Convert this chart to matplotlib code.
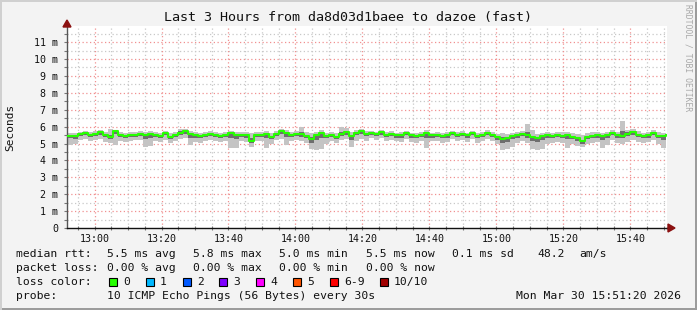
import numpy as np
import matplotlib
matplotlib.use("Agg")
import matplotlib.pyplot as plt
from matplotlib.patches import Rectangle, Polygon
from matplotlib.lines import Line2D

# ---------------- data ----------------
# time axis: minutes after 12:00, one sample every 1.5 minutes
t_start = 52.0
t_step = 1.5

median_ms = [
    5.44, 5.44, 5.58, 5.64, 5.52, 5.58, 5.68, 5.48, 5.38, 5.74,
    5.52, 5.44, 5.48, 5.52, 5.58, 5.48, 5.58, 5.48, 5.44, 5.64,
    5.38, 5.52, 5.64, 5.72, 5.58, 5.48, 5.44, 5.48, 5.58, 5.52,
    5.44, 5.52, 5.62, 5.48, 5.52, 5.48, 5.13, 5.48, 5.52, 5.58,
    5.38, 5.58, 5.72, 5.64, 5.52, 5.58, 5.54, 5.44, 5.29, 5.52,
    5.64, 5.44, 5.52, 5.38, 5.58, 5.68, 5.44, 5.64, 5.72, 5.56,
    5.64, 5.56, 5.68, 5.52, 5.58, 5.48, 5.48, 5.64, 5.48, 5.44,
    5.52, 5.64, 5.48, 5.52, 5.44, 5.48, 5.64, 5.52, 5.58, 5.48,
    5.64, 5.44, 5.52, 5.64, 5.52, 5.38, 5.29, 5.33, 5.44, 5.48,
    5.58, 5.48, 5.38, 5.33, 5.44, 5.48, 5.44, 5.52, 5.44, 5.48,
    5.38, 5.33, 5.13, 5.38, 5.44, 5.48, 5.44, 5.52, 5.64, 5.48,
    5.44, 5.58, 5.68, 5.52, 5.44, 5.48, 5.64, 5.44, 5.44, 5.48,
]

smoke_hi_ms = [
    5.62, 5.65, 5.70, 5.74, 5.68, 5.72, 5.78, 5.70, 5.88, 5.82,
    5.70, 5.62, 5.66, 5.70, 5.72, 5.68, 5.72, 5.66, 5.64, 5.76,
    5.62, 5.70, 5.88, 5.84, 5.74, 5.66, 5.62, 5.68, 5.72, 5.70,
    5.64, 5.70, 5.76, 5.66, 5.70, 5.68, 5.62, 5.66, 5.70, 5.74,
    5.62, 5.72, 5.84, 5.78, 5.70, 5.74, 5.98, 5.70, 5.62, 5.70,
    5.78, 5.64, 5.70, 5.62, 5.98, 5.92, 5.66, 5.80, 5.84, 5.76,
    5.76, 5.70, 5.80, 5.68, 5.72, 5.64, 5.66, 5.76, 5.64, 5.62,
    5.68, 5.78, 5.64, 5.68, 5.62, 5.66, 5.76, 5.68, 5.72, 5.64,
    5.76, 5.62, 5.68, 5.78, 5.70, 5.58, 5.60, 5.58, 5.64, 5.66,
    5.74, 6.17, 5.80, 5.56, 5.64, 5.66, 5.62, 5.70, 5.66, 5.68,
    5.60, 5.58, 5.50, 5.62, 5.66, 5.70, 5.64, 5.70, 5.80, 5.66,
    6.31, 5.82, 5.86, 5.72, 5.64, 5.70, 5.80, 5.66, 5.64, 5.62,
]

smoke_lo_ms = [
    4.90, 4.95, 5.20, 5.25, 5.15, 5.22, 5.25, 5.10, 5.05, 4.90,
    5.15, 5.10, 5.15, 5.18, 5.20, 4.82, 4.85, 5.12, 5.08, 5.22,
    5.05, 5.15, 5.25, 5.30, 4.90, 5.10, 5.05, 5.12, 5.20, 5.15,
    5.10, 5.15, 4.72, 4.75, 5.12, 5.10, 4.80, 5.12, 5.15, 4.75,
    5.00, 5.20, 5.28, 4.90, 5.12, 5.18, 5.15, 5.05, 4.68, 4.62,
    4.70, 4.95, 5.15, 5.05, 5.18, 5.25, 4.80, 5.15, 5.28, 5.15,
    5.30, 5.20, 5.30, 5.15, 5.22, 5.12, 5.10, 5.25, 5.10, 5.05,
    5.15, 4.72, 5.12, 5.15, 5.05, 5.10, 5.25, 5.12, 5.20, 5.08,
    5.25, 5.05, 5.15, 5.25, 5.12, 4.95, 4.62, 4.65, 4.78, 5.05,
    5.15, 5.05, 4.65, 4.62, 4.68, 5.00, 5.05, 5.10, 5.02, 4.72,
    4.95, 4.85, 4.80, 4.95, 5.05, 5.08, 4.72, 4.90, 5.20, 5.05,
    5.00, 5.10, 5.20, 5.10, 5.05, 5.08, 5.20, 5.00, 4.75, 5.05,
]

inner_hi_ms = [
    5.50, 5.50, 5.64, 5.70, 5.58, 5.64, 5.74, 5.54, 5.48, 5.80,
    5.58, 5.50, 5.54, 5.58, 5.64, 5.54, 5.64, 5.54, 5.50, 5.70,
    5.44, 5.58, 5.72, 5.78, 5.64, 5.54, 5.50, 5.54, 5.64, 5.58,
    5.50, 5.58, 5.68, 5.54, 5.58, 5.54, 5.30, 5.54, 5.58, 5.64,
    5.44, 5.64, 5.78, 5.70, 5.58, 5.64, 5.70, 5.50, 5.40, 5.58,
    5.70, 5.50, 5.58, 5.44, 5.70, 5.76, 5.50, 5.70, 5.78, 5.62,
    5.70, 5.62, 5.74, 5.58, 5.64, 5.54, 5.54, 5.70, 5.54, 5.50,
    5.58, 5.70, 5.54, 5.58, 5.50, 5.54, 5.70, 5.58, 5.64, 5.54,
    5.70, 5.50, 5.58, 5.70, 5.58, 5.44, 5.36, 5.40, 5.50, 5.54,
    5.64, 5.70, 5.46, 5.40, 5.50, 5.54, 5.50, 5.58, 5.50, 5.54,
    5.44, 5.40, 5.22, 5.44, 5.50, 5.54, 5.50, 5.58, 5.70, 5.54,
    5.75, 5.66, 5.74, 5.58, 5.50, 5.54, 5.70, 5.50, 5.50, 5.54,
]

inner_lo_ms = [
    5.30, 5.28, 5.45, 5.50, 5.40, 5.45, 5.52, 5.36, 5.26, 5.55,
    5.40, 5.30, 5.36, 5.40, 5.45, 5.25, 5.35, 5.36, 5.30, 5.50,
    5.25, 5.40, 5.50, 5.55, 5.35, 5.34, 5.30, 5.36, 5.45, 5.40,
    5.30, 5.38, 5.30, 5.25, 5.40, 5.35, 5.02, 5.36, 5.40, 5.30,
    5.25, 5.45, 5.55, 5.40, 5.40, 5.45, 5.40, 5.30, 5.05, 5.20,
    5.30, 5.30, 5.40, 5.25, 5.45, 5.52, 5.20, 5.50, 5.58, 5.42,
    5.50, 5.42, 5.52, 5.40, 5.45, 5.35, 5.34, 5.50, 5.35, 5.30,
    5.40, 5.35, 5.35, 5.40, 5.30, 5.35, 5.50, 5.40, 5.45, 5.34,
    5.50, 5.30, 5.40, 5.50, 5.40, 5.20, 5.05, 5.10, 5.25, 5.35,
    5.45, 5.35, 5.15, 5.10, 5.20, 5.35, 5.30, 5.40, 5.30, 5.25,
    5.25, 5.15, 5.00, 5.25, 5.30, 5.35, 5.20, 5.30, 5.50, 5.35,
    5.30, 5.45, 5.52, 5.40, 5.30, 5.35, 5.50, 5.30, 5.20, 5.35,
]

x_tick_min = [60, 80, 100, 120, 140, 160, 180, 200, 220]
x_tick_labels = ["13:00", "13:20", "13:40", "14:00", "14:20", "14:40", "15:00", "15:20", "15:40"]
y_ticks = [0, 1, 2, 3, 4, 5, 6, 7, 8, 9, 10, 11]
y_tick_labels = ["0"] + [f"{v} m" for v in y_ticks[1:]]

title = "Last 3 Hours from da8d03d1baee to dazoe (fast)"
stats_rtt = ["5.5 ms avg", "5.8 ms max", "5.0 ms min", "5.5 ms now", "0.1 ms sd", "48.2", "am/s"]
stats_loss = ["0.00 % avg", "0.00 % max", "0.00 % min", "0.00 % now"]
loss_labels = ["0", "1", "2", "3", "4", "5", "6-9", "10/10"]
loss_colors = ["#26ff00", "#00b8ff", "#0059ff", "#7e00ff", "#ff00ff", "#ff5500", "#ff0000", "#a10000"]
probe_text = "10 ICMP Echo Pings (56 Bytes) every 30s"
date_text = "Mon Mar 30 15:51:20 2026"

# ---------------- figure ----------------
W, H = 697, 310
DPI = 100
plt.rcParams["font.family"] = ["DejaVu Sans Mono"]
fig = plt.figure(figsize=(W / DPI, H / DPI), dpi=DPI, facecolor="#f3f3f3")

def fx(px):
    return px / W

def fy(py):
    return 1 - py / H

L, R, T, B = 67, 667, 26, 228
ax = fig.add_axes([fx(L), fy(B), (R - L) / W, (B - T) / H])
ax.set_facecolor("white")

x = t_start + t_step * np.arange(len(median_ms))
xlim = (51.79, 230.9)
ylim = (0, (B - T) / 16.9)
ax.set_xlim(*xlim)
ax.set_ylim(*ylim)

# grid
minor_x = np.arange(55, 231, 5)
for v in minor_x:
    if v % 20 != 0:
        ax.axvline(v, color="#c8c8c8", lw=0.9, ls=(0, (1, 2)), zorder=1)
for v in np.arange(0.5, 12, 1.0):
    ax.axhline(v, color="#c8c8c8", lw=0.9, ls=(0, (1, 2)), zorder=1)
for v in x_tick_min:
    ax.axvline(v, color="#f09090", lw=0.9, ls=(0, (1, 2)), zorder=1)
for v in y_ticks[1:]:
    ax.axhline(v, color="#f09090", lw=0.9, ls=(0, (1, 2)), zorder=1)

# smoke
ax.fill_between(x, smoke_lo_ms, smoke_hi_ms, step="post", color="#c4c4c4", lw=0, zorder=2)
ax.fill_between(x, inner_lo_ms, inner_hi_ms, step="post", color="#6e6e6e", lw=0, zorder=3)
ax.step(x, median_ms, where="post", color="#26ff00", lw=1.5, zorder=5)

# axes styling
for s in ["top", "right"]:
    ax.spines[s].set_visible(False)
ax.spines["left"].set_color("#555555")
ax.spines["bottom"].set_color("#111111")
ax.spines["left"].set_linewidth(1.0)
ax.spines["bottom"].set_linewidth(1.0)

ax.set_xticks(x_tick_min)
ax.set_xticklabels(x_tick_labels, fontsize=7.2, color="#111111")
ax.set_yticks(y_ticks)
ax.set_yticklabels(y_tick_labels, fontsize=7.2, color="#111111")
ax.set_yticks(np.arange(0.5, 12, 1.0), minor=True)
ax.set_xticks(minor_x, minor=True)
ax.tick_params(axis="y", which="both", length=2.5, width=0.8, color="#777777", pad=4)
ax.tick_params(axis="x", which="both", length=2.5, width=0.8, color="#777777", pad=3,
               direction="inout")

# arrows
arrow_col = "#8b1010"
fig.patches.append(Polygon([[fx(L - 4), fy(T + 1)], [fx(L + 4), fy(T + 1)], [fx(L), fy(T - 6)]],
                           closed=True, transform=fig.transFigure, color=arrow_col, zorder=10))
fig.lines.append(Line2D([fx(R), fx(R + 2)], [fy(B), fy(B)], transform=fig.transFigure,
                        color="#111111", lw=1.0))
fig.patches.append(Polygon([[fx(R + 1), fy(B - 4)], [fx(R + 1), fy(B + 4)], [fx(R + 8), fy(B)]],
                           closed=True, transform=fig.transFigure, color=arrow_col, zorder=10))

# title and labels
fig.text(fx(348), fy(18), title, ha="center", va="center", fontsize=9.6, color="#111111")
fig.text(fx(10), fy(127), "Seconds", rotation=90, ha="center", va="center", fontsize=8.0,
         color="#111111")
fig.text(fx(688), fy(4), "RRDTOOL / TOBI OETIKER", rotation=-90, ha="center", va="top",
         fontsize=5.8, color="#a8a8a8")

# legend
fs = 8.2
tc = "#111111"
row_y = [254, 268, 282, 296]
fig.text(fx(16), fy(row_y[0]), "median rtt:", ha="left", va="center", fontsize=fs, color=tc)
for xp, s in zip([107, 193, 279, 366, 452, 537, 579], stats_rtt):
    fig.text(fx(xp), fy(row_y[0]), s, ha="left", va="center", fontsize=fs, color=tc)

fig.text(fx(16), fy(row_y[1]), "packet loss:", ha="left", va="center", fontsize=fs, color=tc)
for xp, s in zip([107, 193, 279, 366], stats_loss):
    fig.text(fx(xp), fy(row_y[1]), s, ha="left", va="center", fontsize=fs, color=tc)

fig.text(fx(16), fy(row_y[2]), "loss color:", ha="left", va="center", fontsize=fs, color=tc)
sq_x = [109, 146, 183, 219, 256, 293, 330, 380]
for xp, lab, col in zip(sq_x, loss_labels, loss_colors):
    fig.patches.append(Rectangle((fx(xp), fy(row_y[2] + 4)), 8 / W, 8 / H,
                                 transform=fig.transFigure, facecolor=col,
                                 edgecolor="black", lw=0.8))
    fig.text(fx(xp + 14), fy(row_y[2]), lab, ha="left", va="center", fontsize=fs, color=tc)

fig.text(fx(16), fy(row_y[3]), "probe:", ha="left", va="center", fontsize=fs, color=tc)
fig.text(fx(107), fy(row_y[3]), probe_text, ha="left", va="center", fontsize=fs, color=tc)
fig.text(fx(681), fy(row_y[3]), date_text, ha="right", va="center", fontsize=fs, color=tc)

# 3D-ish frame
fig.patches.append(Rectangle((0, 0), 1, 2 / H, transform=fig.transFigure, color="#9c9c9c", lw=0))
fig.patches.append(Rectangle((1 - 2 / W, 0), 2 / W, 1, transform=fig.transFigure, color="#9c9c9c", lw=0))
fig.patches.append(Rectangle((0, 1 - 2 / H), 1, 2 / H, transform=fig.transFigure, color="#d0d0d0", lw=0))
fig.patches.append(Rectangle((0, 0), 2 / W, 1, transform=fig.transFigure, color="#d0d0d0", lw=0))

fig.savefig("out.png", dpi=DPI, facecolor=fig.get_facecolor())
